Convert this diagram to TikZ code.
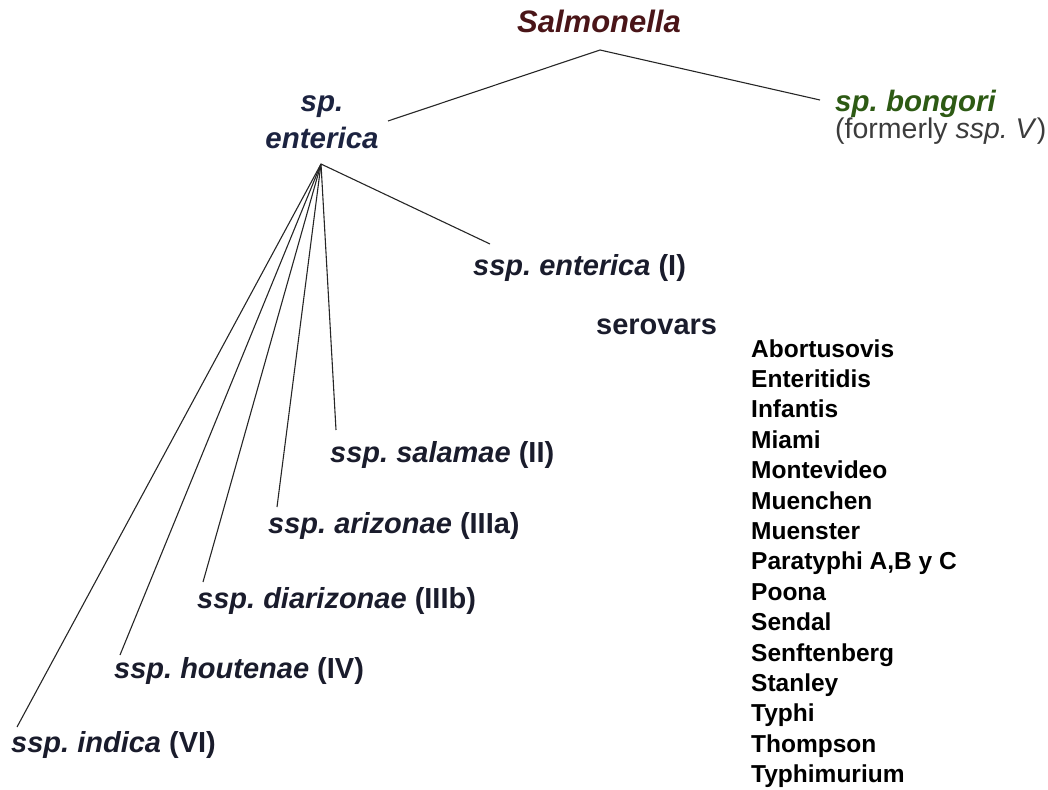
\documentclass[tikz,border=0pt]{standalone}
\usepackage{fontspec}
\setmainfont{Liberation Sans}
\usepackage{xcolor}
\usetikzlibrary{positioning}
\frenchspacing

\definecolor{genuscol}{HTML}{4A1518}
\definecolor{speciescol}{HTML}{1C2340}
\definecolor{bongoricol}{HTML}{2D5A14}
\definecolor{notecol}{HTML}{3C3C3C}
\definecolor{sspcol}{HTML}{1A1C2C}

\begin{document}
\begin{tikzpicture}[
    x=1pt, y=-1pt,
    genus/.style={inner sep=0pt, anchor=base, text=genuscol,
        font=\fontsize{31}{31}\selectfont\bfseries\itshape},
    species/.style={inner sep=0pt, text=speciescol, align=center,
        font=\fontsize{29.5}{36}\selectfont\bfseries\itshape},
    subsp/.style={inner sep=0pt, anchor=base west, text=sspcol,
        font=\fontsize{29}{29}\selectfont\bfseries},
    serovar/.style={inner sep=0pt, anchor=base west, text=black,
        font=\fontsize{24.5}{24.5}\selectfont\bfseries},
    branch/.style={draw=black!85, line width=1.1pt}
]
\useasboundingbox (0,0) rectangle (1048,789);

    % Genus and species
    \node[genus] (salm) at (599,33) {Salmonella};
    \node[species, anchor=base] (spent) at (322,148) {sp.\\enterica};
    \node[inner sep=0pt, anchor=base west, align=left] (bong) at (835,139)
        {\fontsize{29.5}{26}\selectfont\textcolor{bongoricol}{\bfseries\itshape sp. bongori}\\
         \fontsize{28.5}{26}\selectfont\textcolor{notecol}{(formerly \textit{ssp. V})}};
    \coordinate (apex) at (600,50);
    \coordinate (fan) at (321,164);

    % Subspecies
    \node[subsp] (sspI) at (473,275) {\textit{ssp. enterica} (I)};
    \node[subsp] (sspII) at (330,462) {\textit{ssp. salamae} (II)};
    \node[subsp] (sspIIIa) at (268,533) {\textit{ssp. arizonae} (IIIa)};
    \node[subsp] (sspIIIb) at (197,608) {\textit{ssp. diarizonae} (IIIb)};
    \node[subsp] (sspIV) at (114,678) {\textit{ssp. houtenae} (IV)};
    \node[subsp] (sspVI) at (11,752) {\textit{ssp. indica} (VI)};

    % Serovars of ssp. enterica
    \node[subsp] (serov) at (596,334) {serovars};
    \node[serovar] (sv1) at (751,357) {Abortusovis};
    \node[serovar] (sv2) at (751,387.4) {Enteritidis};
    \node[serovar] (sv3) at (751,417.8) {Infantis};
    \node[serovar] (sv4) at (751,448.2) {Miami};
    \node[serovar] (sv5) at (751,478.6) {Montevideo};
    \node[serovar] (sv6) at (751,509) {Muenchen};
    \node[serovar] (sv7) at (751,539.4) {Muenster};
    \node[serovar] (sv8) at (751,569.8) {Paratyphi A,B y C};
    \node[serovar] (sv9) at (751,600.2) {Poona};
    \node[serovar] (sv10) at (751,630.6) {Sendal};
    \node[serovar] (sv11) at (751,661) {Senftenberg};
    \node[serovar] (sv12) at (751,691.4) {Stanley};
    \node[serovar] (sv13) at (751,721.8) {Typhi};
    \node[serovar] (sv14) at (751,752.2) {Thompson};
    \node[serovar] (sv15) at (751,782.6) {Typhimurium};

    % Branches
    \draw[branch] (apex) -- ([shift={(66,-27)}]spent.base);
    \draw[branch] (apex) -- ([shift={(-15,-39)}]bong.base west);
    \draw[branch] (fan) -- ([shift={(17,-31)}]sspI.base west);
    \draw[branch] (fan) -- ([shift={(6,-32)}]sspII.base west);
    \draw[branch] (fan) -- ([shift={(9,-26)}]sspIIIa.base west);
    \draw[branch] (fan) -- ([shift={(6,-26)}]sspIIIb.base west);
    \draw[branch] (fan) -- ([shift={(6,-23)}]sspIV.base west);
    \draw[branch] (fan) -- ([shift={(6,-25)}]sspVI.base west);

\end{tikzpicture}
\end{document}
